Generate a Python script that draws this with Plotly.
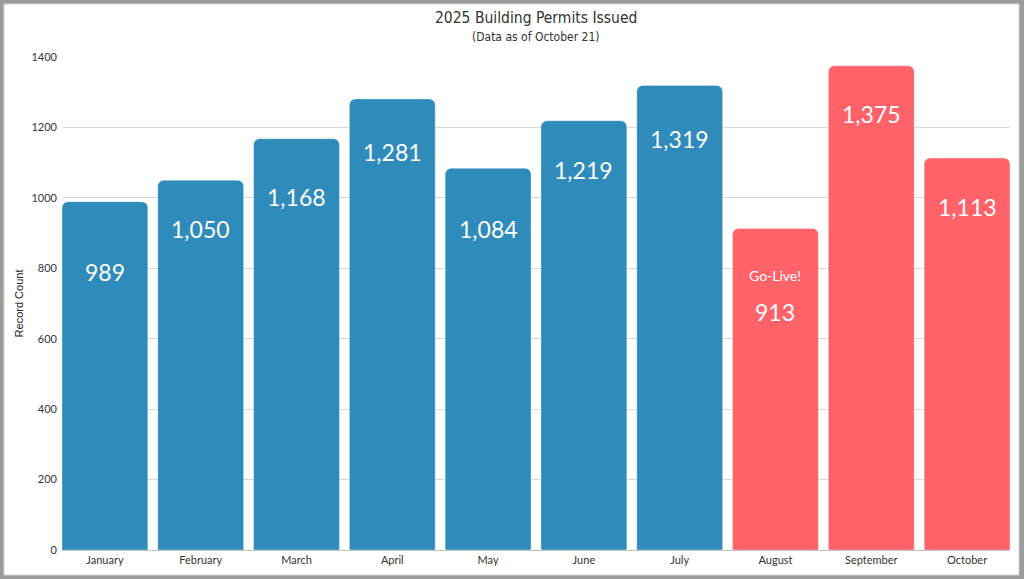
import plotly.graph_objects as go

months = ["January", "February", "March", "April", "May", "June", "July",
          "August", "September", "October"]
permits = [989, 1050, 1168, 1281, 1084, 1219, 1319, 913, 1375, 1113]
value_labels = ["989", "1,050", "1,168", "1,281", "1,084", "1,219", "1,319",
                "913", "1,375", "1,113"]
golive_month = "August"
golive_text = "Go-Live!"
title_text = "2025 Building Permits Issued"
subtitle_text = "(Data as of October 21)"
y_title = "Record Count"
y_ticks = [0, 200, 400, 600, 800, 1000, 1200, 1400]

# styling / placement (pixels below bar top for the label centre)
label_offsets = [70, 49, 58, 53, 61, 49, 53, 84, 48, 49]
golive_offset = 47
BLUE = "#2E8BBA"
RED = "#FF6268"
post_live = months.index(golive_month)
colors = [BLUE if i < post_live else RED for i in range(len(months))]

W, H = 1024, 579
ML, MR, MT, MB = 62, 14, 57, 29
PW, PH = W - ML - MR, H - MT - MB


def px_x(x):
    return (x - ML) / PW


def px_y(y):
    return (H - MB - y) / PH


fig = go.Figure()
fig.add_trace(go.Bar(
    x=list(range(len(months))),
    y=permits,
    marker=dict(color=colors, cornerradius=6,
                line=dict(color="rgba(255,255,255,0.35)", width=1)),
    width=0.896,
    hoverinfo="x+y",
))

LABEL_FONT = "Lato, Open Sans, sans-serif"
for i, (v, t, off) in enumerate(zip(permits, value_labels, label_offsets)):
    fig.add_annotation(x=i, y=v, xref="x", yref="y", text=t, showarrow=False,
                       yanchor="middle", yshift=-off,
                       font=dict(family=LABEL_FONT, size=23, color="white"))
fig.add_annotation(x=post_live, y=permits[post_live], xref="x", yref="y",
                   text=golive_text, showarrow=False, yanchor="middle",
                   yshift=-golive_offset,
                   font=dict(family=LABEL_FONT, size=14, color="white"))

TITLE_FONT = "Liberation Sans Narrow, DejaVu Sans Condensed, sans-serif"
fig.add_annotation(x=0.5, y=px_y(18), xref="paper", yref="paper", text=title_text,
                   showarrow=False, yanchor="middle",
                   font=dict(family=TITLE_FONT, size=15.5, color="#333333"))
fig.add_annotation(x=0.5, y=px_y(37), xref="paper", yref="paper", text=subtitle_text,
                   showarrow=False, yanchor="middle",
                   font=dict(family=TITLE_FONT, size=12, color="#333333"))

# frame: grey outer border with white inner panel
fig.add_shape(type="rect", xref="paper", yref="paper", layer="below",
              x0=px_x(4), x1=px_x(1019), y0=px_y(575), y1=px_y(4),
              fillcolor="white", line=dict(color="#d6d6d6", width=1))

fig.update_layout(
    width=W, height=H,
    margin=dict(l=ML, r=MR, t=MT, b=MB),
    paper_bgcolor="#9c9c9c",
    plot_bgcolor="rgba(0,0,0,0)",
    showlegend=False,
    font=dict(family=LABEL_FONT, color="#333333", size=11),
    xaxis=dict(
        tickmode="array", tickvals=list(range(len(months))), ticktext=months,
        range=[-0.448, len(months) - 1 + 0.448],
        showgrid=False, showline=True, linecolor="#c4c4c4", linewidth=1,
        ticks="", tickfont=dict(size=11, color="#333333"),
        layer="below traces", fixedrange=True,
    ),
    yaxis=dict(
        range=[0, 1400], tickvals=y_ticks, showgrid=True, gridcolor="#d9d9d9",
        gridwidth=1, zeroline=False, ticks="", ticklabelstandoff=4,
        tickfont=dict(size=11, color="#333333"),
        title=dict(text=y_title, standoff=5,
                   font=dict(family="Liberation Sans, Arial, sans-serif",
                             size=11, color="#222222")),
        fixedrange=True,
    ),
)

fig.write_html("out.html", config={"displayModeBar": False},
               post_script="document.body.style.margin='0';"
                           "document.body.style.overflow='hidden';")
